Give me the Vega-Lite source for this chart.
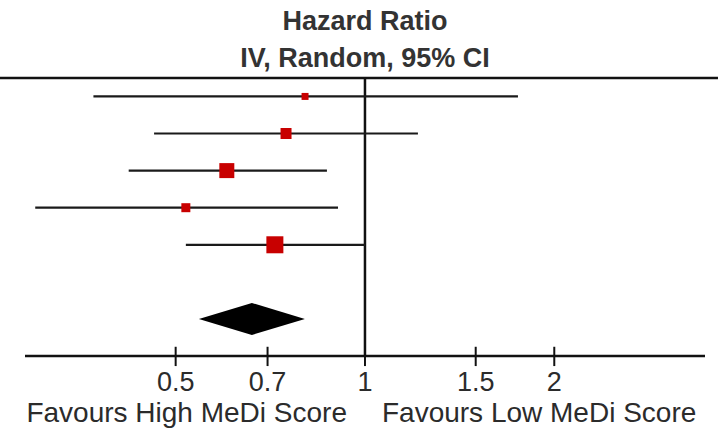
{
  "$schema": "https://vega.github.io/schema/vega-lite/v6.json",
  "width": 680,
  "height": 428,
  "autosize": "none",
  "padding": {"left": 25, "top": 0, "right": 13, "bottom": 0},
  "background": "white",
  "config": {"view": {"stroke": null}, "font": "Liberation Sans"},
  "datasets": {
    "studies": [
      {"row": 1, "hr": 0.803, "lo": 0.370, "hi": 1.751, "weight": 6.4},
      {"row": 2, "hr": 0.749, "lo": 0.462, "hi": 1.214, "weight": 15.8},
      {"row": 3, "hr": 0.603, "lo": 0.421, "hi": 0.870, "weight": 29.4},
      {"row": 4, "hr": 0.519, "lo": 0.299, "hi": 0.906, "weight": 10.6},
      {"row": 5, "hr": 0.719, "lo": 0.519, "hi": 1.000, "weight": 37.8}
    ],
    "pooled": [{"row": 7, "hr": 0.661, "lo": 0.545, "hi": 0.803}],
    "ticks": [
      {"v": 0.5, "label": "0.5"},
      {"v": 0.7, "label": "0.7"},
      {"v": 1, "label": "1"},
      {"v": 1.5, "label": "1.5"},
      {"v": 2, "label": "2"}
    ],
    "header": [
      {"x": 1, "row": -1, "text": "Hazard Ratio"},
      {"x": 1, "row": 0, "text": "IV, Random, 95% CI"}
    ],
    "frame": [
      {"what": "header line", "x": 0.2628, "x2": 3.642, "y": 0.5, "y2": 0.5},
      {"what": "axis line", "x": 0.288, "x2": 3.473, "y": 8, "y2": 8},
      {"what": "null line", "x": 1, "x2": 1, "y": 0.5, "y2": 8}
    ]
  },
  "layer": [
    {
      "data": {"name": "frame"},
      "mark": {"type": "rule", "color": "#111", "strokeWidth": 2.5},
      "encoding": {
        "x": {"field": "x", "type": "quantitative", "scale": {"type": "log", "domain": [0.288, 3.473], "nice": false}, "axis": null},
        "x2": {"field": "x2"},
        "y": {"field": "y", "type": "quantitative", "scale": {"domain": [-1.6, 9.94], "reverse": true, "nice": false, "zero": false}, "axis": null},
        "y2": {"field": "y2"}
      }
    },
    {
      "data": {"name": "ticks"},
      "mark": {"type": "rule", "color": "#111", "strokeWidth": 2},
      "encoding": {
        "x": {"field": "v", "type": "quantitative"},
        "y": {"datum": 7.75, "type": "quantitative"},
        "y2": {"datum": 8.27}
      }
    },
    {
      "data": {"name": "ticks"},
      "mark": {"type": "text", "fontSize": 27, "color": "#2b2b2b", "baseline": "middle", "align": "center"},
      "encoding": {
        "x": {"field": "v", "type": "quantitative"},
        "y": {"datum": 8.72, "type": "quantitative"},
        "text": {"field": "label"}
      }
    },
    {
      "data": {"values": [{"x": 1, "row": 9.56, "text": "Favours High MeDi Score"}]},
      "mark": {"type": "text", "fontSize": 28, "color": "#2b2b2b", "baseline": "middle", "align": "right", "dx": -18},
      "encoding": {
        "x": {"field": "x", "type": "quantitative"},
        "y": {"field": "row", "type": "quantitative"},
        "text": {"field": "text"}
      }
    },
    {
      "data": {"values": [{"x": 1, "row": 9.56, "text": "Favours Low MeDi Score"}]},
      "mark": {"type": "text", "fontSize": 28, "color": "#2b2b2b", "baseline": "middle", "align": "left", "dx": 17},
      "encoding": {
        "x": {"field": "x", "type": "quantitative"},
        "y": {"field": "row", "type": "quantitative"},
        "text": {"field": "text"}
      }
    },
    {
      "data": {"name": "header"},
      "mark": {"type": "text", "fontSize": 27, "fontWeight": "bold", "color": "#333", "baseline": "middle", "align": "center"},
      "encoding": {
        "x": {"field": "x", "type": "quantitative"},
        "y": {"field": "row", "type": "quantitative"},
        "text": {"field": "text"}
      }
    },
    {
      "data": {"name": "studies"},
      "mark": {"type": "rule", "color": "#1a1a1a", "strokeWidth": 2.2},
      "encoding": {
        "x": {"field": "lo", "type": "quantitative"},
        "x2": {"field": "hi"},
        "y": {"field": "row", "type": "quantitative"}
      }
    },
    {
      "data": {"name": "studies"},
      "mark": {"type": "point", "shape": "square", "filled": true, "color": "#c80000", "opacity": 1},
      "encoding": {
        "x": {"field": "hr", "type": "quantitative"},
        "y": {"field": "row", "type": "quantitative"},
        "size": {"field": "weight", "type": "quantitative", "scale": {"domain": [0, 40], "range": [0, 306], "zero": true}, "legend": null}
      }
    },
    {
      "data": {"name": "pooled"},
      "mark": {"type": "point", "shape": "M-1,0L0,-0.302L1,0L0,0.302Z", "filled": true, "color": "#000", "opacity": 1, "size": 11236},
      "encoding": {
        "x": {"field": "hr", "type": "quantitative"},
        "y": {"field": "row", "type": "quantitative"}
      }
    }
  ]
}
